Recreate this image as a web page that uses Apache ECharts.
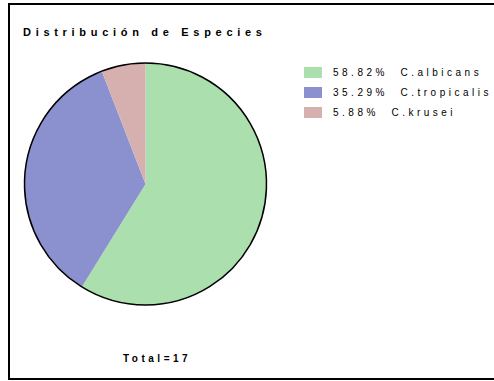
<!DOCTYPE html>
<html>
<head>
<meta charset="utf-8">
<script src="https://cdn.jsdelivr.net/npm/echarts@6/dist/echarts.min.js"></script>
<style>
  html, body { margin: 0; padding: 0; background: #fff; }
  #chart { width: 494px; height: 381px; }
  /* wide tracking, as in the printed report */
  #chart text { letter-spacing: 3.5px; }
  #chart text[style*="11px"] { letter-spacing: 4.7px; }
</style>
</head>
<body>
<div id="chart"></div>
<script>
// Species counts
const species = ['C.albicans', 'C.tropicalis', 'C.krusei'];
const counts = [10, 6, 1];
const colors = ['#ACDFAE', '#8A91CE', '#D5B0AF'];
const titleText = 'Distribución de Especies';

const total = counts.reduce((a, b) => a + b, 0);
const pct = {};
species.forEach((s, i) => { pct[s] = (counts[i] / total * 100).toFixed(2); });

const font = '"Liberation Sans", Arial, Helvetica, sans-serif';
const chart = echarts.init(document.getElementById('chart'), null, { renderer: 'svg' });

chart.setOption({
  animation: false,
  backgroundColor: '#fff',
  title: [
    {
      text: titleText,
      left: 23, top: 26, padding: 0,
      textStyle: { fontFamily: font, fontSize: 11, fontWeight: 'bold', color: '#000' }
    },
    {
      text: 'Total=' + total,
      left: 123, top: 353, padding: 0,
      textStyle: { fontFamily: font, fontSize: 10, fontWeight: 'bold', color: '#000' }
    }
  ],
  legend: {
    orient: 'vertical',
    left: 304, top: 67, padding: 0,
    itemWidth: 18, itemHeight: 11, itemGap: 9,
    icon: 'rect',
    data: species,
    formatter: name => pct[name] + '%  ' + name,
    textStyle: { fontFamily: font, fontSize: 10, color: '#000', padding: [0, 0, 0, 6] },
    selectedMode: false
  },
  graphic: [
    {
      type: 'rect', silent: true,
      shape: { x: 9, y: 4, width: 500, height: 375 },
      style: { fill: 'none', stroke: '#000', lineWidth: 2 }
    }
  ],
  series: [
    {
      type: 'pie',
      center: [145.5, 184],
      radius: 121,
      startAngle: 90,
      clockwise: true,
      silent: true,
      label: { show: false },
      labelLine: { show: false },
      itemStyle: { borderWidth: 0 },
      data: species.map((s, i) => ({ name: s, value: counts[i], itemStyle: { color: colors[i] } }))
    },
    {
      // outline around the whole pie
      type: 'pie',
      center: [145.5, 184],
      radius: 121,
      silent: true,
      label: { show: false },
      labelLine: { show: false },
      itemStyle: { color: 'rgba(0,0,0,0)', borderColor: '#000', borderWidth: 1.5 },
      data: [{ name: 'outline', value: total }]
    }
  ]
});
</script>
</body>
</html>
